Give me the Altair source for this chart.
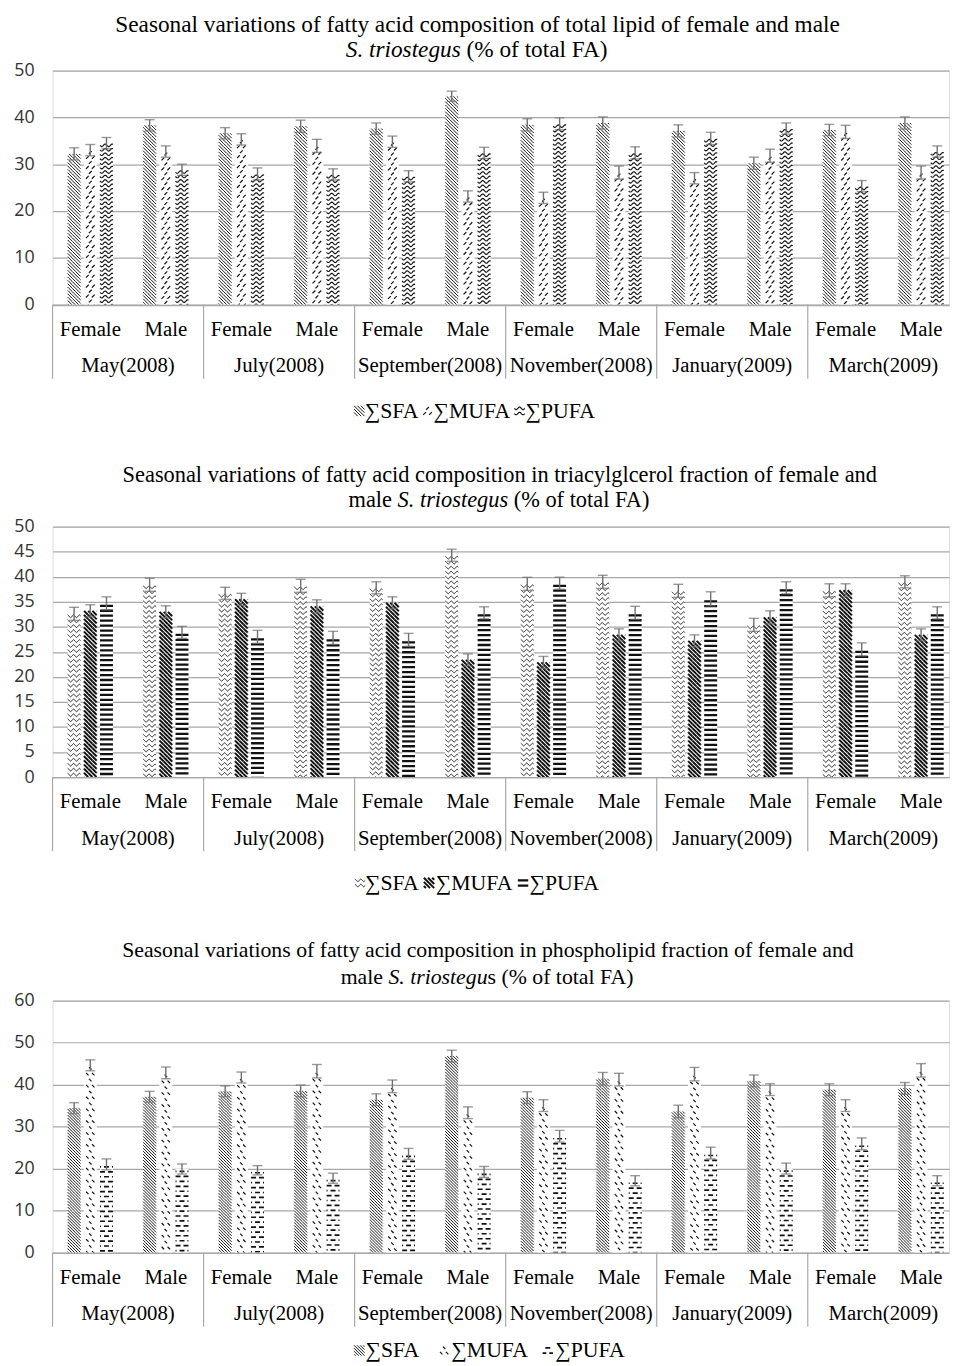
import math
import altair as alt
import pandas as pd

# ---------------- data ----------------
months = ["May(2008)", "July(2008)", "September(2008)", "November(2008)", "January(2009)", "March(2009)"]
sexes = ["Female", "Male"]
series = ["∑SFA", "∑MUFA", "∑PUFA"]

# order: May F, May M, July F, July M, Sep F, Sep M, Nov F, Nov M, Jan F, Jan M, Mar F, Mar M
tl_sfa = [32.2, 38.3, 36.6, 38.1, 37.6, 44.5, 38.4, 38.8, 37.1, 30.2, 37.3, 38.8]
tl_mufa = [33.0, 32.7, 35.3, 33.9, 34.8, 23.1, 22.8, 28.2, 27.0, 31.8, 36.9, 28.2]
tl_pufa = [34.5, 28.8, 27.9, 27.8, 27.4, 32.4, 38.6, 32.4, 35.5, 37.6, 25.3, 32.7]
tl_sfa_err = [1.3, 1.2, 1.2, 1.3, 1.2, 1.1, 1.3, 1.3, 1.3, 1.3, 1.2, 1.3]
tl_mufa_err = [1.2, 1.2, 1.2, 1.4, 1.2, 1.2, 1.2, 1.4, 1.2, 1.4, 1.4, 1.4]
tl_pufa_err = [1.2, 1.2, 1.3, 1.2, 1.2, 1.2, 1.3, 1.3, 1.3, 1.2, 1.2, 1.2]

tg_sfa = [32.6, 38.4, 36.7, 38.2, 37.8, 44.3, 38.6, 39.0, 37.2, 30.4, 37.3, 39.0]
tg_mufa = [33.2, 33.0, 35.5, 34.1, 34.8, 23.4, 22.9, 28.4, 27.2, 31.9, 37.3, 28.4]
tg_pufa = [34.7, 28.9, 28.0, 27.8, 27.4, 32.8, 38.7, 32.8, 35.6, 37.8, 25.5, 32.8]
tg_sfa_err = [1.3, 1.3, 1.2, 1.3, 1.2, 1.2, 1.3, 1.3, 1.3, 1.3, 1.3, 1.2]
tg_mufa_err = [1.2, 1.2, 1.2, 1.3, 1.2, 1.2, 1.2, 1.2, 1.2, 1.3, 1.3, 1.2]
tg_pufa_err = [1.3, 1.2, 1.3, 1.3, 1.3, 1.2, 1.2, 1.3, 1.4, 1.2, 1.3, 1.2]

pl_sfa = [34.4, 37.1, 38.4, 38.5, 36.4, 46.8, 36.9, 41.4, 33.6, 40.9, 38.8, 39.1]
pl_mufa = [44.6, 42.8, 41.7, 43.2, 39.6, 33.3, 35.0, 41.2, 42.5, 38.8, 35.0, 43.4]
pl_pufa = [21.0, 19.9, 19.6, 17.7, 23.5, 19.2, 27.7, 17.1, 23.7, 20.0, 25.9, 17.1]
pl_sfa_err = [1.3, 1.3, 1.3, 1.4, 1.4, 1.4, 1.4, 1.5, 1.5, 1.4, 1.4, 1.4]
pl_mufa_err = [1.3, 1.4, 1.3, 1.6, 1.5, 1.4, 1.4, 1.5, 1.6, 1.4, 1.4, 1.6]
pl_pufa_err = [1.3, 1.2, 1.1, 1.2, 1.3, 1.3, 1.4, 1.2, 1.4, 1.3, 1.4, 1.2]

# ---------------- style / layout ----------------
SERIF = "Liberation Serif"
SANS = "Open Sans"
GRID = "#a8a8a8"
ERRC = "#6f6f6f"
INK = "#111111"

PLOT_W = 906
PI_X, PO_X = 0.4, 0.135
STEP = PLOT_W / (12 - PI_X + 2 * PO_X)
ALIGN = (0.2 * STEP) / (PLOT_W - STEP * (12 - PI_X))
HALF_GAP = PI_X * STEP / 2
BAND = STEP * (1 - PI_X)
PI_O = 0.2
SUB = BAND / (3 - PI_O)
BW = SUB * (1 - PI_O)

keys = [f"{m}|{s}" for m in months for s in sexes]

# ---------------- pattern helpers ----------------
def pat_diag(d, down=True):
    def f(w, h):
        xa, xb, ya, yb = -w / 2, w / 2, -h / 2, h / 2
        out = []
        if down:
            cmin, cmax = xa - yb, xb - ya
        else:
            cmin, cmax = xa + ya, xb + yb
        c = math.floor(cmin / d) * d
        while c <= cmax + 1e-9:
            if down:
                y1, y2 = max(ya, xa - c), min(yb, xb - c)
                if y2 - y1 > 1e-6:
                    out.append([(y1 + c, y1), (y2 + c, y2)])
            else:
                y1, y2 = max(ya, c - xb), min(yb, c - xa)
                if y2 - y1 > 1e-6:
                    out.append([(c - y1, y1), (c - y2, y2)])
            c += d
        return out
    return f


def pat_rows(rowgap, row_fn):
    def f(w, h):
        n = max(1, round(h / rowgap))
        out = []
        for r in range(n):
            y = -h / 2 + (r + 0.5) * h / n
            out += row_fn(w, y, r)
        return out
    return f


def row_wave(lam, amp, zig=False):
    def g(w, y, r):
        pts = []
        N = max(2, int(w / 0.5))
        for i in range(N + 1):
            x = -w / 2 + i * w / N
            t = (x + w / 2) / lam
            if zig:
                v = 1 - 4 * abs((t % 1) - 0.5)
            else:
                v = math.sin(2 * math.pi * t)
            pts.append((x, y + amp * v))
        return [pts]
    return g


def row_hline():
    def g(w, y, r):
        return [[(-w / 2, y), (w / 2, y)]]
    return g


def row_dash(period, length, shift):
    def g(w, y, r):
        off = (r % 2) * shift
        out = []
        k0 = math.floor((-w / 2 - off - length) / period)
        for k in range(k0, k0 + int(w / period) + 5):
            xc = off + k * period
            x1, x2 = max(xc - length / 2, -w / 2), min(xc + length / 2, w / 2)
            if x2 - x1 > 0.6:
                out.append([(x1, y), (x2, y)])
        return out
    return g


def row_dashdiag(period, length, shift, down):
    def g(w, y, r):
        off = (r % 2) * shift
        a = length / (2 * math.sqrt(2))
        s = 1 if down else -1
        out = []
        k0 = math.floor((-w / 2 - off) / period) - 1
        for k in range(k0, k0 + int(w / period) + 5):
            xc = off + k * period
            if xc - a >= -w / 2 - 0.2 and xc + a <= w / 2 + 0.2:
                out.append([(xc - a, y - s * a), (xc + a, y + s * a)])
        return out
    return g


def to_path(polys, unit):
    parts = []
    for pl in polys:
        parts.append("M" + "L".join(f"{x / unit:.3f},{y / unit:.3f}" for x, y in pl))
    return "".join(parts)


# Times-compatible advance widths (per 1000 em) for title pieces
ROMAN = {"m": 778, "a": 444, "l": 278, "e": 444, " ": 250, "(": 333, ")": 333, "%": 833,
         "o": 500, "f": 333, "t": 278, "F": 556, "A": 722, "s": 389}
ITALIC = {"S": 500, ".": 250, " ": 250, "t": 278, "r": 389, "i": 278, "o": 500, "s": 389,
          "e": 444, "g": 500, "u": 500}


def text_w(txt, style, size):
    tab = ITALIC if style == "italic" else ROMAN
    return sum(tab.get(ch, 500) for ch in txt) * size / 1000.0


def text_layer(txt, x, y, size, style="normal", align="left", baseline="alphabetic", font=SERIF):
    return alt.Chart(pd.DataFrame({"t": [txt]})).mark_text(
        font=font, fontSize=size, fontStyle=style, align=align, baseline=baseline, color="#000"
    ).encode(x=alt.value(x), y=alt.value(y), text="t:N")


def title_layers(line1, pieces, cx, y1, y2, size):
    layers = [text_layer(line1, cx, y1, size, align="center")]
    total = 0.0
    for txt, style, sp in pieces:
        total += text_w(txt, style, size) + (text_w(" ", "normal", size) if sp else 0)
    x = cx - total / 2
    for txt, style, sp in pieces:
        if sp:
            x += text_w(" ", "normal", size)
        layers.append(text_layer(txt, x, y2, size, style=style))
        x += text_w(txt, style, size)
    return layers


def make_panel(vals, errs, ymax, ytick, H, pats, line1, pieces, tcx, tsize, ty1, ty2, leg, leg_y):
    ppu = H / ymax
    rows = []
    for si, s in enumerate(series):
        for i, k in enumerate(keys):
            v, e = vals[si][i], errs[si][i]
            rows.append(dict(key=k, series=s, value=v, lo=v - e, hi=v + e))
    df = pd.DataFrame(rows)

    xs = alt.Scale(domain=keys, paddingInner=PI_X, paddingOuter=PO_X, align=ALIGN)
    xos = alt.Scale(domain=series, paddingInner=PI_O, paddingOuter=0)
    ys = alt.Scale(domain=[0, ymax], nice=False, zero=True)
    x_axis = alt.Axis(title=None, labelExpr="split(datum.label, '|')[1]", ticks=False,
                      domainColor=GRID, domainWidth=1.2, labelFont=SERIF, labelFontSize=21,
                      labelColor="#000", labelPadding=14, labelAngle=0, grid=False)
    y_axis = alt.Axis(title=None, values=list(range(0, ymax + 1, ytick)), grid=True,
                      gridColor=GRID, gridWidth=1.2, domain=False, ticks=False,
                      labelFont=SANS, labelFontSize=18, labelColor="#333333", labelPadding=18.5)

    def X(field="key:N", **kw):
        return alt.X(field, scale=xs, axis=x_axis, **kw)

    def XO():
        return alt.XOffset("series:N", scale=xos)

    def Y(field):
        return alt.Y(field, scale=ys, axis=y_axis)

    layers = [alt.Chart(df).mark_bar(fill="white", strokeWidth=0).encode(x=X(), xOffset=XO(), y=Y("value:Q"))]

    for si, s in enumerate(series):
        fn, T, sw = pats[si]
        tile_path = to_path(fn(BW, T), BW / 2)
        Td = T / ppu
        trows = []
        for i, k in enumerate(keys):
            v = vals[si][i]
            n = math.ceil(v / Td - 1e-9)
            for j in range(n):
                trows.append(dict(key=k, series=s, y=v - (j + 0.5) * Td))
        layers.append(
            alt.Chart(pd.DataFrame(trows)).mark_point(
                shape=tile_path, filled=False, stroke=INK, strokeWidth=sw, size=BW ** 2,
                opacity=1, clip=True
            ).encode(x=X(), xOffset=XO(), y=Y("y:Q"))
        )

    layers.append(alt.Chart(df).mark_rule(color=ERRC, strokeWidth=1.4).encode(
        x=X(), xOffset=XO(), y=Y("lo:Q"), y2="hi:Q"))
    for f in ["lo:Q", "hi:Q"]:
        layers.append(alt.Chart(df).mark_tick(color=ERRC, thickness=1.4, size=10, orient="horizontal").encode(
            x=X(), xOffset=XO(), y=Y(f)))

    sep_df = pd.DataFrame({"key": [f"{m}|Female" for m in months]})
    layers.append(alt.Chart(sep_df).mark_rule(color=GRID, strokeWidth=1.2, xOffset=-HALF_GAP).encode(
        x=X(bandPosition=0), y=alt.value(H), y2=alt.value(H + 75)))

    mdf = pd.DataFrame({"key": [f"{m}|Male" for m in months], "month": months})
    layers.append(alt.Chart(mdf).mark_text(font=SERIF, fontSize=21, color="#000", baseline="middle",
                                          align="center", xOffset=-HALF_GAP).encode(
        x=X(bandPosition=0), y=alt.value(H + 62.5), text="month:N"))

    layers += title_layers(line1, pieces, tcx - 52, ty1, ty2, tsize)

    for si, s in enumerate(series):
        fn, T, sw = pats[si]
        sw_path = to_path(fn(10.5, 10.5), 5.25)
        sx, lx = leg[si]
        layers.append(alt.Chart(pd.DataFrame({"s": [s]})).mark_point(
            shape=sw_path, filled=False, stroke=INK, strokeWidth=sw, size=10.5 ** 2, opacity=1
        ).encode(x=alt.value(sx - 52), y=alt.value(H + leg_y)))
        layers.append(text_layer(s, lx - 52, H + leg_y, 22, baseline="middle"))

    return alt.layer(*layers).properties(width=PLOT_W, height=H)


pats1 = [
    (pat_diag(3.4, down=True), 3.4, 1.0),
    (pat_rows(5, row_dashdiag(6, 4, 3, down=False)), 10, 1.2),
    (pat_rows(4.5, row_wave(7, 1.3)), 9, 1.15),
]
pats2 = [
    (pat_rows(5, row_wave(6, 1.4, zig=True)), 10, 1.0),
    (pat_diag(4.2, down=True), 4.2, 2.0),
    (pat_rows(5, row_hline()), 10, 2.3),
]
pats3 = [
    (pat_diag(3.0, down=True), 3.0, 1.0),
    (pat_rows(6, row_dashdiag(6, 3.5, 3, down=True)), 12, 1.2),
    (pat_rows(5, row_dash(8, 5, 4)), 10, 1.7),
]

c1 = make_panel([tl_sfa, tl_mufa, tl_pufa], [tl_sfa_err, tl_mufa_err, tl_pufa_err], 50, 10, 236.5, pats1,
                "Seasonal variations of fatty acid composition of total lipid of female and male",
                [("S. triostegus", "italic", False), ("(% of total FA)", "normal", True)],
                481.5, 23.5, -39, -14, [(362, 367.5), (431, 437), (524, 530)], 107.5)
c2 = make_panel([tg_sfa, tg_mufa, tg_pufa], [tg_sfa_err, tg_mufa_err, tg_pufa_err], 50, 5, 253, pats2,
                "Seasonal variations of fatty acid composition in triacylglcerol fraction of female and",
                [("male", "normal", False), ("S. triostegus", "italic", True), ("(% of total FA)", "normal", True)],
                504, 22.6, -45, -20, [(362.8, 367.7), (432.5, 439.3), (527.5, 534)], 107)
c3 = make_panel([pl_sfa, pl_mufa, pl_pufa], [pl_sfa_err, pl_mufa_err, pl_pufa_err], 60, 10, 254.5, pats3,
                "Seasonal variations of fatty acid composition in phospholipid fraction of female and",
                [("male", "normal", False), ("S. triostegu", "italic", True), ("s (% of total FA)", "normal", False)],
                492, 22.0, -44, -17, [(362, 368.3), (447.8, 455), (552.5, 560)], 99)

chart = alt.vconcat(alt.vconcat(c1, c2, spacing=41), c3, spacing=44).properties(
    padding={"left": 5, "top": -3, "right": 0, "bottom": 0}
).configure_view(strokeWidth=0).configure(background="white")

chart.save("out.html", embed_options={"renderer": "svg", "actions": False})
